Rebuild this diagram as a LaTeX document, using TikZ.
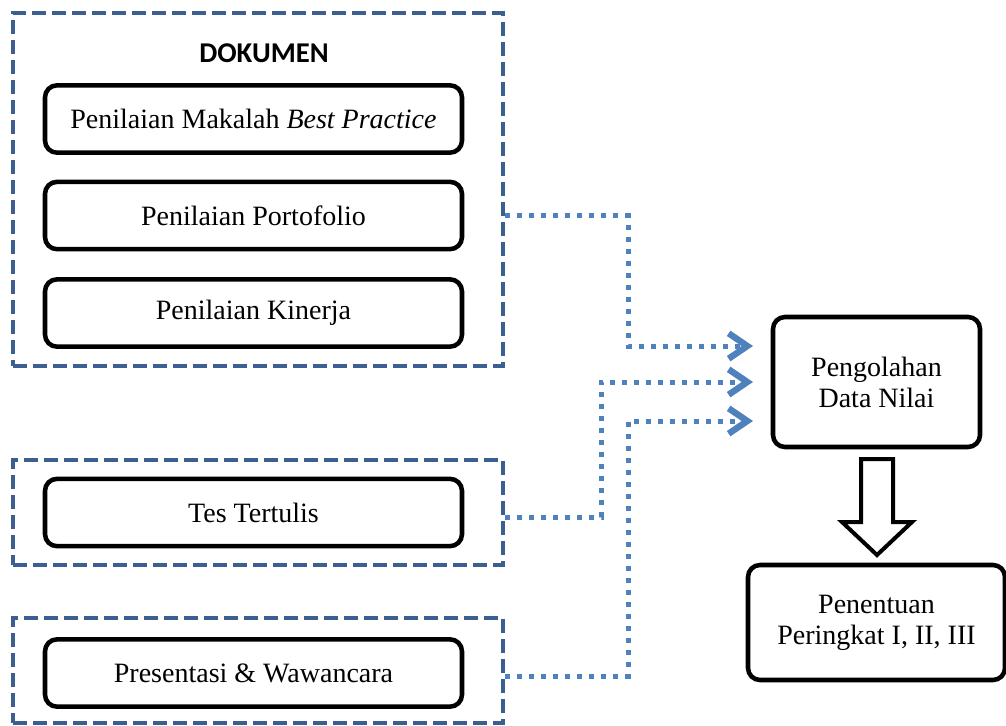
\documentclass[tikz,border=0pt]{standalone}
\usepackage{fontspec}
\setmainfont{Liberation Serif}
\newfontfamily\dokfont{Carlito}
\usetikzlibrary{arrows.meta}
\definecolor{grpblue}{RGB}{60,95,145}
\definecolor{dotblue}{RGB}{79,129,189}
\tikzset{
  txt/.style={font=\fontsize{21}{23.25}\selectfont, align=center},
  itembox/.style={draw=black, line width=3.4pt, rounded corners=9pt, txt,
    minimum width=312.75pt, minimum height=50.5pt, inner sep=0pt},
  grpbox/.style={draw=grpblue, line width=3pt, dash pattern=on 10.5pt off 4.5pt,
    minimum width=367.5pt, inner sep=0pt},
  conn/.style={draw=dotblue, line width=3.75pt, dash pattern=on 3.75pt off 5.25pt,
    -{Straight Barb[length=14pt,width=19pt,line width=4.8pt]}},
  bigarrow/.style={draw=black, line width=3pt, fill=white, line join=miter},
}
\begin{document}
\begin{tikzpicture}[x=0.75pt,y=-0.75pt]
\useasboundingbox (0,0) rectangle (1006,725);
% groups
\node[grpbox, minimum height=264.75pt] (g1) at (258,189.5) {};
\node[grpbox, minimum height=78.75pt] (g2) at (258,512.5) {};
\node[grpbox, minimum height=78.75pt] (g3) at (258,670.5) {};
\node[font=\dokfont\bfseries\fontsize{21.5}{23}\selectfont, anchor=base] (dok) at (264,62) {DOKUMEN};
% item boxes
\node[itembox] (b1) at (253.5,119) {Penilaian Makalah \textit{Best Practice}};
\node[itembox] (b2) at (253.5,215.5) {Penilaian Portofolio};
\node[itembox] (b3) at (253.5,313) {Penilaian Kinerja};
\node[itembox] (b4) at (253.5,512.5) {Tes Tertulis};
\node[itembox] (b5) at (253.5,673) {Presentasi \& Wawancara};
% right boxes
\node[itembox, minimum width=155.25pt, minimum height=97.5pt] (pg) at (876.5,382) {Pengolahan\\Data Nilai};
\node[itembox, minimum width=192.75pt, minimum height=86.25pt] (pe) at (876.5,622.5) {Penentuan\\Peringkat I, II, III};
% arrow tips
\coordinate (t1) at (753,346);
\coordinate (t2) at (753,382);
\coordinate (t3) at (753,421);
\coordinate (k1) at (628,215.5);
\coordinate (k2) at (601,517);
\coordinate (k3) at (628,676);
% connectors
\draw[conn] (g1.east |- b2) -- (k1) -- (k1 |- t1) -- (t1);
\draw[conn] (g2.east |- k2) -- (k2) -- (k2 |- t2) -- (t2);
\draw[conn] (g3.east |- k3) -- (k3) -- (k3 |- t3) -- (t3);
% block arrow
\draw[bigarrow] (861,459) -- (893,459) -- (893,522) -- (912,522) -- (877,555)
  -- (842,522) -- (861,522) -- cycle;
\end{tikzpicture}
\end{document}
